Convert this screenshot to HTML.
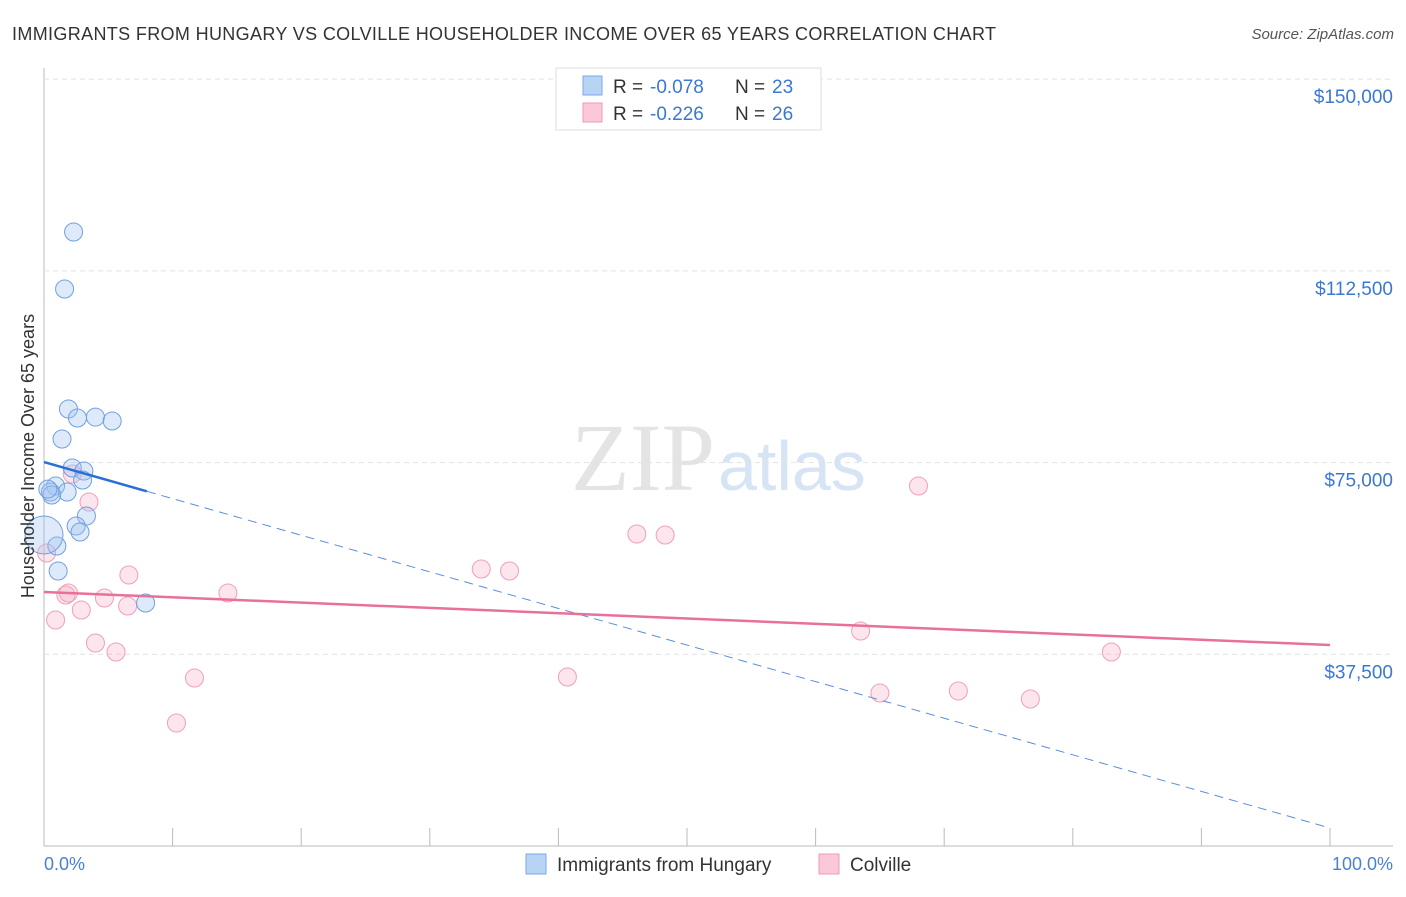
<!DOCTYPE html>
<html><head><meta charset="utf-8"><style>
body{margin:0;background:#fff;font-family:"Liberation Sans",sans-serif;}
svg text{font-family:"Liberation Sans",sans-serif;}
</style></head><body>
<svg id="c" width="1406" height="892" xmlns="http://www.w3.org/2000/svg">
<text x="12" y="40" font-size="18" fill="#333" textLength="984">IMMIGRANTS FROM HUNGARY VS COLVILLE HOUSEHOLDER INCOME OVER 65 YEARS CORRELATION CHART</text>
<text x="1394" y="39" font-size="15" fill="#555" font-style="italic" text-anchor="end">Source: ZipAtlas.com</text>
<text x="715" y="490" font-size="96" fill="#e4e4e4" text-anchor="end" style="font-family:'Liberation Serif',serif">ZIP</text>
<text x="718" y="490" font-size="70" fill="#d6e4f5">atlas</text>
<g id="grid"></g>
<g id="marks"></g>
<text transform="translate(34,456) rotate(-90)" font-size="18" fill="#333" text-anchor="middle">Householder Income Over 65 years</text>
<text x="44" y="870" font-size="18" fill="#4a7fd4">0.0%</text>
<text x="1393" y="870" font-size="18" fill="#4a7fd4" text-anchor="end">100.0%</text>
<g>
<rect x="556" y="68" width="265" height="62" fill="#fff" stroke="#ddd"/>
<rect x="583" y="76" width="19" height="19" fill="#b8d4f5" stroke="#7aaae6"/>
<rect x="583" y="103" width="19" height="19" fill="#fac8d6" stroke="#f09ab4"/>
<text x="613" y="93" font-size="19" fill="#333">R = <tspan x="650" fill="#3a78d4">-0.078</tspan><tspan x="735">N = </tspan><tspan x="772" fill="#3a78d4">23</tspan></text>
<text x="613" y="120" font-size="19" fill="#333">R = <tspan x="650" fill="#3a78d4">-0.226</tspan><tspan x="735">N = </tspan><tspan x="772" fill="#3a78d4">26</tspan></text>
</g>
<g>
<rect x="526" y="854" width="20" height="20" fill="#b8d4f5" stroke="#7aaae6"/>
<text x="557" y="871" font-size="19" fill="#333">Immigrants from Hungary</text>
<rect x="819" y="854" width="20" height="20" fill="#fac8d6" stroke="#f09ab4"/>
<text x="850" y="871" font-size="19" fill="#333">Colville</text>
</g>
</svg>
<script>
const yTicks=[37500,75000,112500,150000];
const yTickLabels=["$37,500","$75,000","$112,500","$150,000"];
const blueX=[2.3,1.6,1.9,2.6,4.0,5.3,1.4,2.2,3.1,3.0,0.9,0.5,1.8,0.6,3.3,2.5,2.8,1.0,1.1,7.9,0.0,0.3];
const blueY=[120100,108950,85480,83720,83900,83130,79610,73940,73350,71590,70420,69240,69240,68660,64550,62590,61420,58680,53790,47530,60830,69800];
const pinkX=[0.2,0.9,3.5,2.2,1.7,1.9,2.9,4.7,6.6,6.5,4.0,5.6,14.3,11.7,10.3,34.0,36.2,40.7,46.1,48.3,63.5,65.0,68.0,71.1,76.7,83.0];
const pinkY=[57310,44210,67290,72760,49100,49490,46160,48510,53010,46940,39710,37950,49490,32860,24060,54180,53790,33060,61030,60830,42050,29930,70420,30320,28750,37950];
const blueTrend=[75100,3520];
const pinkTrend=[49680,39310];
const blueSolidEnd=8;
const NS="http://www.w3.org/2000/svg";
const X=p=>44+p*12.86, Y=v=>846-v/195.6;
function mk(t,a,parent){const e=document.createElementNS(NS,t);for(const k in a)e.setAttribute(k,a[k]);parent.appendChild(e);return e;}
const g=document.getElementById('grid'), m=document.getElementById('marks');
let ax=mk('line',{x1:44,y1:68,x2:44,y2:846,stroke:'#bbb'},g);

let bx=mk('line',{x1:44,y1:846,x2:1393,y2:846,stroke:'#bbb'},g);

for(let i=0;i<=10;i++){let t=mk('line',{x1:X(i*10),y1:828,x2:X(i*10),y2:846,stroke:'#bbb'},g);
}
yTicks.forEach((v,i)=>{let l=mk('line',{x1:44,y1:Y(v),x2:1393,y2:Y(v),stroke:'#e2e2e2','stroke-dasharray':'5 4'},g);

let t=mk('text',{x:1393,y:Y(v)+24,'font-size':19,fill:'#3a78d4','text-anchor':'end'},g);t.textContent=yTickLabels[i];
});
pinkX.forEach((x,i)=>{let c=mk('circle',{cx:X(x),cy:Y(pinkY[i]),r:9,fill:'rgba(246,170,194,0.3)',stroke:'#f0a0b8','stroke-width':1},m);
});
blueX.forEach((x,i)=>{let c=mk('circle',{cx:X(x),cy:Y(blueY[i]),r:i==20?19:9,fill:'rgba(160,196,240,0.35)',stroke:'#6fa0e0','stroke-width':1},m);
});
const bt=p=>blueTrend[0]+(blueTrend[1]-blueTrend[0])*p/100, pt=p=>pinkTrend[0]+(pinkTrend[1]-pinkTrend[0])*p/100;
let l1=mk('line',{x1:X(0),y1:Y(bt(0)),x2:X(blueSolidEnd),y2:Y(bt(blueSolidEnd)),stroke:'#2a6fd6','stroke-width':2.5},m);

let l2=mk('line',{x1:X(blueSolidEnd),y1:Y(bt(blueSolidEnd)),x2:X(100),y2:Y(bt(100)),stroke:'#5a8fdc','stroke-width':1,'stroke-dasharray':'9 6'},m);

let l3=mk('line',{x1:X(0),y1:Y(pt(0)),x2:X(100),y2:Y(pt(100)),stroke:'#e8709a','stroke-width':2.5},m);

</script>
</body></html>
